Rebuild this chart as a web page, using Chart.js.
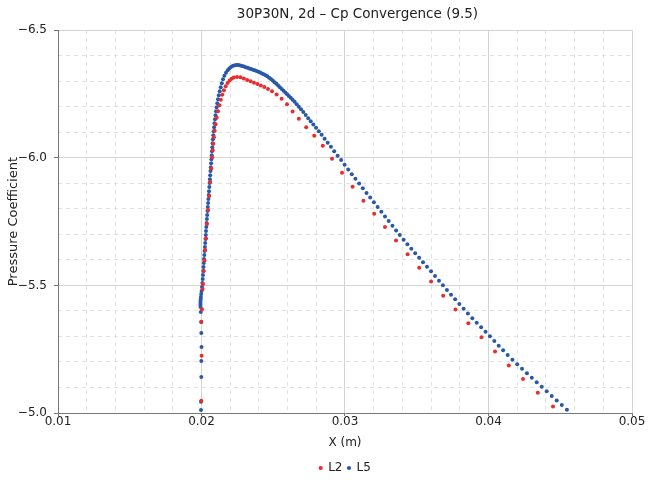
<!DOCTYPE html>
<html>
<head>
<meta charset="utf-8">
<script src="https://cdn.jsdelivr.net/npm/chart.js@4"></script>
<style>
  body { margin: 0; background: #fff; }
  #wrap { width: 657px; height: 481px; }
</style>
</head>
<body>
<div id="wrap"><canvas id="cpChart" width="657" height="481"></canvas></div>
<script>
// L2 (coarse)
const l2X = [0.019986, 0.020007, 0.019993, 0.020035, 0.020077, 0.020105, 0.020160, 0.020209, 0.020258, 0.020314,
    0.020383, 0.020460, 0.020537, 0.020606, 0.020683, 0.020739, 0.020781, 0.020822, 0.020864, 0.020920,
    0.020983, 0.021059, 0.021150, 0.021247, 0.021345, 0.021450, 0.021561, 0.021686, 0.021819, 0.021958,
    0.022098, 0.022251, 0.022474, 0.022711, 0.022948, 0.023185, 0.023422, 0.023659, 0.023896, 0.024133,
    0.024377, 0.024634, 0.024913, 0.025234, 0.025582, 0.025958, 0.026349, 0.026781, 0.027296, 0.027854,
    0.028453, 0.029094, 0.029791, 0.030530, 0.031283, 0.032035, 0.032788, 0.033555, 0.034363, 0.035172,
    0.036001, 0.036844, 0.037701, 0.038594, 0.039513, 0.040454, 0.041416, 0.042405, 0.043437, 0.044496];
const l2Y = [-5.0481, -5.2244, -5.3575, -5.4061, -5.4856, -5.5052, -5.5561, -5.5972, -5.6384, -5.6834,
    -5.7402, -5.7950, -5.8499, -5.9047, -5.9576, -6.0026, -6.0300, -6.0555, -6.0809, -6.1064,
    -6.1318, -6.1573, -6.1828, -6.2063, -6.2278, -6.2474, -6.2650, -6.2807, -6.2932, -6.3030,
    -6.3100, -6.3147, -6.3171, -6.3155, -6.3108, -6.3053, -6.2999, -6.2944, -6.2889, -6.2834,
    -6.2771, -6.2697, -6.2603, -6.2482, -6.2313, -6.2094, -6.1812, -6.1530, -6.1193, -6.0864,
    -6.0473, -5.9963, -5.9411, -5.8863, -5.8318, -5.7809, -5.7288, -5.6760, -5.6219, -5.5687,
    -5.5150, -5.4598, -5.4057, -5.3517, -5.2965, -5.2412, -5.1864, -5.1331, -5.0791, -5.0258];

// L5 (fine)
const l5X = [0.019965, 0.019965, 0.019986, 0.019986, 0.020000, 0.019986, 0.019979, 0.019951, 0.019930, 0.019930,
    0.019930, 0.019930, 0.019944, 0.019958, 0.019979, 0.020007, 0.020035, 0.020063, 0.020084, 0.020105,
    0.020125, 0.020139, 0.020160, 0.020174, 0.020195, 0.020216, 0.020237, 0.020258, 0.020279, 0.020300,
    0.020314, 0.020335, 0.020355, 0.020376, 0.020397, 0.020418, 0.020439, 0.020460, 0.020481, 0.020502,
    0.020523, 0.020544, 0.020564, 0.020585, 0.020606, 0.020627, 0.020648, 0.020669, 0.020690, 0.020711,
    0.020732, 0.020753, 0.020774, 0.020794, 0.020822, 0.020850, 0.020878, 0.020906, 0.020941, 0.020976,
    0.021011, 0.021052, 0.021101, 0.021150, 0.021206, 0.021268, 0.021338, 0.021415, 0.021498, 0.021596,
    0.021707, 0.021826, 0.021951, 0.022077, 0.022202, 0.022328, 0.022453, 0.022579, 0.022704, 0.022829,
    0.022955, 0.023080, 0.023206, 0.023331, 0.023457, 0.023582, 0.023708, 0.023833, 0.023958, 0.024084,
    0.024209, 0.024335, 0.024460, 0.024586, 0.024711, 0.024836, 0.024962, 0.025087, 0.025213, 0.025338,
    0.025464, 0.025589, 0.025715, 0.025840, 0.025965, 0.026091, 0.026216, 0.026349, 0.026488, 0.026634,
    0.026781, 0.026934, 0.027094, 0.027262, 0.027436, 0.027610, 0.027791, 0.027980, 0.028175, 0.028370,
    0.028579, 0.028795, 0.029018, 0.029248, 0.029485, 0.029729, 0.029973, 0.030223, 0.030474, 0.030725,
    0.030983, 0.031241, 0.031499, 0.031757, 0.032014, 0.032272, 0.032530, 0.032788, 0.033046, 0.033304,
    0.033562, 0.033819, 0.034084, 0.034349, 0.034621, 0.034893, 0.035165, 0.035436, 0.035715, 0.035994,
    0.036273, 0.036551, 0.036823, 0.037102, 0.037388, 0.037674, 0.037966, 0.038266, 0.038565, 0.038872,
    0.039179, 0.039485, 0.039792, 0.040099, 0.040405, 0.040712, 0.041019, 0.041339, 0.041667, 0.042001,
    0.042336, 0.042677, 0.043019, 0.043360, 0.043709, 0.044057, 0.044406, 0.044754, 0.045109, 0.045465];
const l5Y = [-5.0117, -5.0442, -5.1410, -5.2036, -5.2585, -5.3133, -5.3564, -5.3955, -5.4151, -5.4229,
    -5.4308, -5.4386, -5.4465, -5.4543, -5.4660, -5.4778, -5.4935, -5.5091, -5.5248, -5.5404,
    -5.5561, -5.5718, -5.5874, -5.6031, -5.6188, -5.6344, -5.6501, -5.6658, -5.6814, -5.6971,
    -5.7128, -5.7284, -5.7441, -5.7598, -5.7754, -5.7911, -5.8068, -5.8224, -5.8381, -5.8538,
    -5.8694, -5.8851, -5.9008, -5.9164, -5.9321, -5.9478, -5.9634, -5.9791, -5.9948, -6.0104,
    -6.0261, -6.0418, -6.0574, -6.0731, -6.0888, -6.1044, -6.1201, -6.1358, -6.1514, -6.1671,
    -6.1828, -6.1984, -6.2141, -6.2298, -6.2454, -6.2611, -6.2768, -6.2924, -6.3081, -6.3218,
    -6.3335, -6.3433, -6.3512, -6.3567, -6.3606, -6.3629, -6.3637, -6.3633, -6.3617, -6.3598,
    -6.3574, -6.3551, -6.3527, -6.3504, -6.3480, -6.3453, -6.3426, -6.3398, -6.3371, -6.3339,
    -6.3308, -6.3273, -6.3234, -6.3191, -6.3140, -6.3085, -6.3026, -6.2963, -6.2897, -6.2830,
    -6.2764, -6.2697, -6.2631, -6.2560, -6.2490, -6.2419, -6.2349, -6.2274, -6.2192, -6.2102,
    -6.2004, -6.1902, -6.1792, -6.1675, -6.1553, -6.1432, -6.1307, -6.1177, -6.1040, -6.0899,
    -6.0750, -6.0594, -6.0429, -6.0261, -6.0085, -5.9909, -5.9728, -5.9544, -5.9360, -5.9176,
    -5.8992, -5.8808, -5.8624, -5.8440, -5.8256, -5.8072, -5.7888, -5.7703, -5.7519, -5.7335,
    -5.7151, -5.6971, -5.6791, -5.6611, -5.6439, -5.6262, -5.6086, -5.5910, -5.5734, -5.5553,
    -5.5369, -5.5185, -5.5001, -5.4821, -5.4637, -5.4453, -5.4269, -5.4085, -5.3901, -5.3717,
    -5.3536, -5.3356, -5.3180, -5.3004, -5.2824, -5.2640, -5.2455, -5.2271, -5.2087, -5.1907,
    -5.1731, -5.1555, -5.1378, -5.1202, -5.1026, -5.0850, -5.0670, -5.0490, -5.0309, -5.0129];

const xTicks = [0.01, 0.02, 0.03, 0.04, 0.05];
const yTicks = [-6.5, -6.0, -5.5, -5.0];

const near = (v, step) => Math.abs(v / step - Math.round(v / step)) < 1e-6;
const minus = s => s.replace('-', '\u2212');

// title sits a bit right of the plot centre in the original
const shiftTitle = {
    id: 'shiftTitle',
    afterLayout(chart) {
        const t = chart.titleBlock;
        t.left = chart.chartArea.left + 25;
        t.right = chart.chartArea.right;
    }
};

Chart.defaults.font.family = 'DejaVu Sans';
Chart.defaults.color = '#333';

const ctx = document.getElementById('cpChart').getContext('2d');
const cpChart = new Chart(ctx, {
    type: 'scatter',
    data: {
        datasets: [{
            label: 'L2',
            data: l2X.map((x, i) => ({ x: x, y: l2Y[i] })),
            backgroundColor: 'rgb(232, 44, 48)',
            borderColor: 'rgb(232, 44, 48)',
            pointRadius: 2,
            pointBorderWidth: 0
        }, {
            label: 'L5',
            data: l5X.map((x, i) => ({ x: x, y: l5Y[i] })),
            backgroundColor: 'rgb(42, 88, 168)',
            borderColor: 'rgb(42, 88, 168)',
            pointRadius: 2,
            pointBorderWidth: 0
        }]
    },
    plugins: [shiftTitle],
    options: {
        responsive: false,
        animation: false,
        layout: { padding: { left: 0, right: 25, top: 0, bottom: -3 } },
        plugins: {
            title: {
                display: true,
                text: '30P30N, 2d \u2013 Cp Convergence (9.5)',
                font: { size: 13.5, weight: 'normal' },
                color: '#222',
                padding: { top: 6, bottom: 8 }
            },
            legend: {
                position: 'bottom',
                fullSize: false,
                labels: {
                    usePointStyle: true,
                    pointStyle: 'circle',
                    boxWidth: 3,
                    boxHeight: 3,
                    padding: 5,
                    font: { size: 12 },
                    color: '#222'
                }
            },
            tooltip: { enabled: false }
        },
        scales: {
            x: {
                type: 'linear',
                position: 'bottom',
                min: 0.01,
                max: 0.05,
                afterBuildTicks: s => { s.ticks = xTicks.map(v => ({ value: v })); },
                ticks: { callback: v => v.toFixed(2), padding: -1, font: { size: 12 }, color: '#222' },
                grid: { color: '#d4d4d4', tickColor: '#777', tickLength: 3 },
                border: { color: '#777' },
                title: { display: true, text: 'X (m)', font: { size: 12 }, color: '#222', padding: { top: 0, bottom: 7 } },
                afterFit: s => { s.height = 44; }
            },
            xMinor: {
                type: 'linear',
                position: 'bottom',
                min: 0.01,
                max: 0.05,
                ticks: { display: false, stepSize: 0.002 },
                grid: {
                    drawTicks: false,
                    color: c => near(c.tick.value, 0.01) ? 'rgba(0,0,0,0)' : '#e3e3e3'
                },
                border: { display: false, dash: [4, 4] }
            },
            y: {
                type: 'linear',
                position: 'left',
                min: -6.5,
                max: -5.0,
                reverse: true,
                afterBuildTicks: s => { s.ticks = yTicks.map(v => ({ value: v })); },
                ticks: { callback: v => minus(v.toFixed(1)), padding: 7, font: { size: 12 }, color: '#222' },
                grid: { color: '#d4d4d4', tickColor: '#777', tickLength: 4 },
                border: { color: '#777' },
                title: { display: true, text: 'Pressure Coefficient', font: { size: 13 }, color: '#222', padding: { top: 6, bottom: 0 } },
                afterFit: s => { s.width = 58; }
            },
            yMinor: {
                type: 'linear',
                position: 'left',
                min: -6.5,
                max: -5.0,
                reverse: true,
                ticks: { display: false, stepSize: 0.1 },
                grid: {
                    drawTicks: false,
                    color: c => near(c.tick.value, 0.5) ? 'rgba(0,0,0,0)' : '#e3e3e3'
                },
                border: { display: false, dash: [4, 4] }
            }
        }
    }
});
</script>
</body>
</html>
